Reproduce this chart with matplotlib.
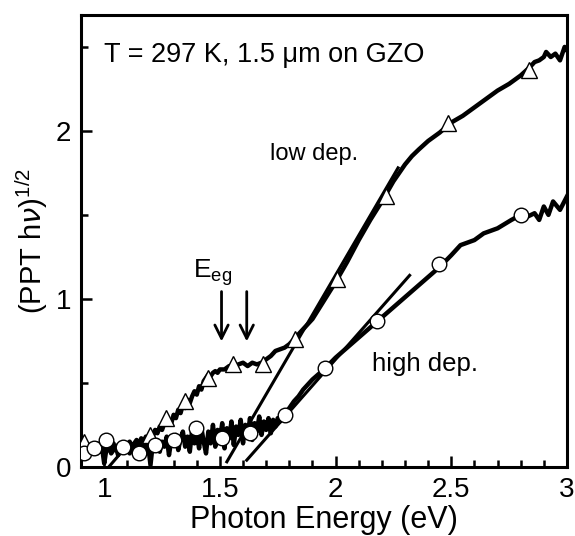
import numpy as np
import matplotlib.pyplot as plt

plt.rcParams['font.family'] = ['Liberation Sans', 'DejaVu Sans']

# low dep. trace (triangles)
energy_low = [0.90, 0.91, 0.92, 0.93, 0.94, 0.95, 0.96, 0.97, 0.98, 0.99,
              1.00, 1.01, 1.02, 1.03, 1.04, 1.05, 1.06, 1.07, 1.08, 1.09,
              1.10, 1.11, 1.12, 1.13, 1.14, 1.15, 1.16, 1.17, 1.18, 1.19,
              1.20, 1.21, 1.22, 1.23, 1.24, 1.25, 1.26, 1.27, 1.28, 1.29,
              1.30, 1.31, 1.32, 1.33, 1.34, 1.35, 1.36, 1.37, 1.38, 1.39,
              1.40, 1.41, 1.42, 1.43, 1.44, 1.45, 1.46, 1.47, 1.48, 1.49,
              1.50, 1.52, 1.54, 1.56, 1.58, 1.60, 1.62, 1.64, 1.66, 1.68,
              1.70, 1.72, 1.74, 1.76, 1.78, 1.80, 1.82, 1.84, 1.86, 1.88,
              1.90, 1.95, 2.00, 2.05, 2.10, 2.15, 2.20, 2.25, 2.28, 2.30,
              2.33, 2.36, 2.40, 2.45, 2.50, 2.55, 2.60, 2.65, 2.70, 2.75,
              2.80, 2.84, 2.86, 2.88, 2.90, 2.91, 2.93, 2.95, 2.97, 2.99, 3.00]
ppt_low = [0.13, 0.10, 0.14, 0.11, 0.09, 0.13, 0.12, 0.08, 0.12, 0.10,
           0.13, 0.09, 0.12, 0.11, 0.14, 0.10, 0.13, 0.12, 0.14, 0.11,
           0.13, 0.15, 0.12, 0.14, 0.16, 0.13, 0.17, 0.15, 0.18, 0.16,
           0.20, 0.18, 0.22, 0.20, 0.24, 0.22, 0.26, 0.25, 0.28, 0.26,
           0.31, 0.29, 0.34, 0.32, 0.37, 0.35, 0.40, 0.38, 0.42, 0.45,
           0.43, 0.48, 0.46, 0.51, 0.53, 0.55, 0.54, 0.56, 0.57, 0.56,
           0.58, 0.58, 0.60, 0.59, 0.61, 0.62, 0.60, 0.62, 0.61, 0.62,
           0.64, 0.66, 0.69, 0.70, 0.71, 0.73, 0.76, 0.79, 0.82, 0.85,
           0.88, 0.99, 1.10, 1.22, 1.35, 1.47, 1.58, 1.70, 1.76, 1.80,
           1.85, 1.89, 1.94, 1.99, 2.05, 2.09, 2.14, 2.19, 2.24, 2.28,
           2.33, 2.38, 2.41, 2.42, 2.44, 2.47, 2.44, 2.46, 2.42, 2.50, 2.48]
tri_x = [0.913, 1.198, 1.265, 1.35, 1.447, 1.556, 1.686, 1.824, 2.007, 2.219, 2.488, 2.835]
tri_y = [0.15, 0.19, 0.29, 0.39, 0.53, 0.61, 0.61, 0.76, 1.12, 1.61, 2.05, 2.36]

# high dep. trace (circles)
energy_high = [0.90, 0.91, 0.92, 0.93, 0.94, 0.95, 0.96, 0.97, 0.98, 0.99,
               1.00, 1.01, 1.02, 1.03, 1.04, 1.05, 1.06, 1.07, 1.08, 1.09,
               1.10, 1.11, 1.12, 1.13, 1.14, 1.15, 1.16, 1.17, 1.18, 1.19,
               1.20, 1.21, 1.22, 1.23, 1.24, 1.25, 1.26, 1.27, 1.28, 1.29,
               1.30, 1.31, 1.32, 1.33, 1.34, 1.35, 1.36, 1.37, 1.38, 1.39,
               1.40, 1.41, 1.42, 1.43, 1.44, 1.45, 1.46, 1.47, 1.48, 1.49,
               1.50, 1.51, 1.52, 1.53, 1.54, 1.55, 1.56, 1.57, 1.58, 1.59,
               1.60, 1.61, 1.62, 1.63, 1.64, 1.65, 1.66, 1.67, 1.68, 1.69,
               1.70, 1.71, 1.72, 1.73, 1.74, 1.75, 1.76, 1.78, 1.80, 1.82,
               1.84, 1.86, 1.88, 1.90, 1.95, 2.00, 2.05, 2.10, 2.15, 2.20,
               2.25, 2.30, 2.35, 2.40, 2.45, 2.50, 2.54, 2.60, 2.64, 2.70,
               2.76, 2.80, 2.83, 2.86, 2.88, 2.90, 2.92, 2.94, 2.97, 3.00]
ppt_high = [0.09, 0.12, 0.07, 0.11, 0.13, 0.08, 0.10, 0.14, 0.09, 0.12,
            0.02, 0.11, 0.13, 0.08, 0.10, 0.12, 0.07, 0.13, 0.09, 0.11,
            0.14, 0.08, 0.12, 0.10, 0.15, 0.09, 0.12, 0.14, 0.08, 0.13,
            0.01, 0.14, 0.11, 0.16, 0.09, 0.15, 0.12, 0.18, 0.07, 0.16,
            0.13, 0.19, 0.10, 0.17, 0.21, 0.12, 0.18, 0.09, 0.22, 0.14,
            0.20, 0.11, 0.23, 0.15, 0.08, 0.21, 0.14, 0.25, 0.12, 0.22,
            0.16, 0.26, 0.11, 0.23, 0.17, 0.27, 0.13, 0.24, 0.19, 0.28,
            0.14, 0.25, 0.18, 0.29, 0.16, 0.26, 0.21, 0.30, 0.19, 0.27,
            0.22, 0.29, 0.20, 0.28, 0.24, 0.29, 0.27, 0.31, 0.35, 0.39,
            0.42, 0.46, 0.49, 0.52, 0.58, 0.65, 0.71, 0.77, 0.83, 0.89,
            0.95, 1.01, 1.07, 1.13, 1.19, 1.26, 1.32, 1.35, 1.39, 1.42,
            1.47, 1.50, 1.49, 1.51, 1.47, 1.55, 1.50, 1.58, 1.53, 1.61]
circ_x = [0.913, 0.957, 1.009, 1.083, 1.149, 1.221, 1.30, 1.398, 1.508, 1.629, 1.78, 1.954, 2.18, 2.445, 2.80]
circ_y = [0.08, 0.11, 0.16, 0.12, 0.08, 0.13, 0.16, 0.23, 0.17, 0.20, 0.31, 0.59, 0.87, 1.21, 1.50]

# linear fits
fit_low_x = [1.53, 2.27]
fit_low_y = [0.03, 1.78]
fit_high_x = [1.616, 2.32]
fit_high_y = [0.04, 1.14]
fit_tail_x = [1.02, 1.07]
fit_tail_y = [0.0, 0.08]

# E_eg arrows
eg_x = [1.507, 1.616]

fig = plt.figure(figsize=(5.75, 5.36), dpi=100)
ax = fig.add_axes([0.141, 0.129, 0.845, 0.843])

ax.plot(energy_low, ppt_low, color='black', lw=3.2, zorder=2)
ax.plot(energy_high, ppt_high, color='black', lw=3.2, zorder=2)
ax.plot(fit_low_x, fit_low_y, color='black', lw=2.2, zorder=2)
ax.plot(fit_high_x, fit_high_y, color='black', lw=2.2, zorder=2)
ax.plot(fit_tail_x, fit_tail_y, color='black', lw=2.2, zorder=2)
ax.plot(tri_x, tri_y, ls='none', marker='^', ms=11, mfc='white', mec='black', mew=1.0, zorder=3)
ax.plot(circ_x, circ_y, ls='none', marker='o', ms=10.5, mfc='white', mec='black', mew=1.0, zorder=3)

for x in eg_x:
    ax.annotate('', xy=(x, 0.73), xytext=(x, 1.06),
                arrowprops=dict(arrowstyle='->', color='black', lw=2.0, mutation_scale=24))
ax.text(1.47, 1.16, r'E$_{\mathregular{eg}}$', fontsize=19, ha='center', va='center')

ax.text(1.0, 2.45, 'T = 297 K, 1.5 \u03bcm on GZO', fontsize=19.5, ha='left', va='center')
ax.text(1.716, 1.86, 'low dep.', fontsize=17, ha='left', va='center')
ax.text(2.158, 0.61, 'high dep.', fontsize=18.5, ha='left', va='center')

ax.set_xlim(0.9, 3.0)
ax.set_ylim(0, 2.69)
ax.set_xticks([1, 1.5, 2, 2.5, 3])
ax.set_xticklabels(['1', '1.5', '2', '2.5', '3'])
ax.set_xticks(np.arange(0.9, 3.0, 0.1), minor=True)
ax.set_yticks([0, 1, 2])
ax.set_yticks([0.5, 1.5, 2.5], minor=True)
ax.tick_params(which='both', direction='in', labelsize=20, width=1.8, top=False, right=False)
ax.tick_params(which='major', length=8, pad=7)
ax.tick_params(which='minor', length=5)
for s in ax.spines.values():
    s.set_linewidth(2.2)

ax.set_xlabel('Photon Energy (eV)', fontsize=22, labelpad=2)
ax.set_ylabel(r'(PPT h$\nu$)$^{\mathregular{1/2}}$', fontsize=21, labelpad=4)

fig.savefig('out.png', dpi=100)
